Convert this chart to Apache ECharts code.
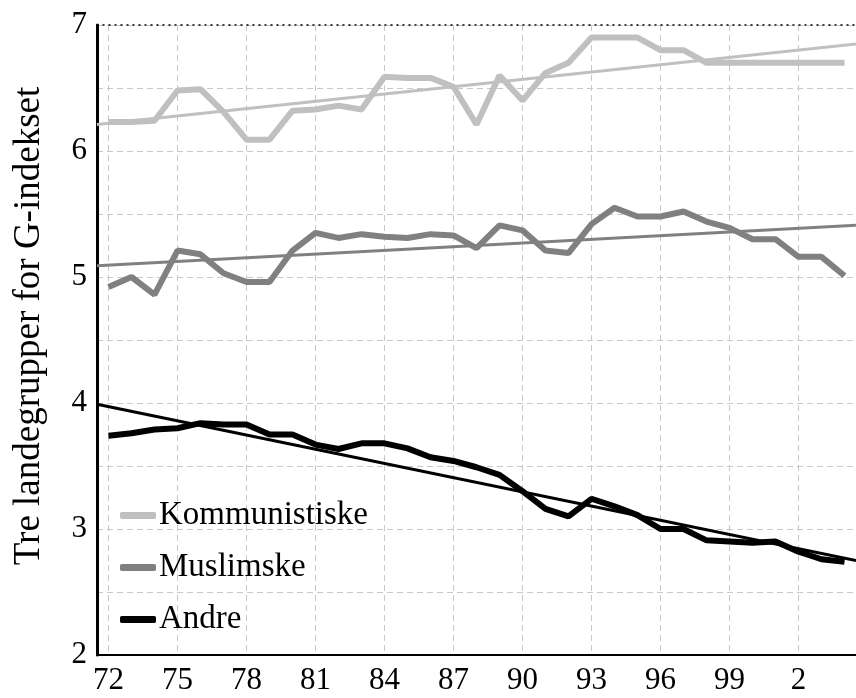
<!DOCTYPE html>
<html>
<head>
<meta charset="utf-8">
<script src="https://cdn.jsdelivr.net/npm/echarts@6/dist/echarts.min.js"></script>
<style>
  html, body { margin: 0; padding: 0; background: #fff; }
  #main { width: 856px; height: 698px; }
</style>
</head>
<body>
<div id="main"></div>
<script>
// years on the x axis (label is the last two digits, 2002 -> "2")
var years = [1972, 1973, 1974, 1975, 1976, 1977, 1978, 1979, 1980, 1981, 1982,
  1983, 1984, 1985, 1986, 1987, 1988, 1989, 1990, 1991, 1992, 1993,
  1994, 1995, 1996, 1997, 1998, 1999, 2000, 2001, 2002, 2003, 2004];

var komm = [6.23, 6.23, 6.24, 6.48, 6.49, 6.31, 6.09, 6.09, 6.32, 6.33, 6.36,
  6.33, 6.59, 6.58, 6.58, 6.51, 6.21, 6.60, 6.40, 6.62, 6.70, 6.90,
  6.90, 6.90, 6.80, 6.80, 6.70, 6.70, 6.70, 6.70, 6.70, 6.70, 6.70];

var musl = [4.92, 5.00, 4.86, 5.21, 5.18, 5.03, 4.96, 4.96, 5.21, 5.35, 5.31,
  5.34, 5.32, 5.31, 5.34, 5.33, 5.23, 5.41, 5.37, 5.21, 5.19, 5.42,
  5.55, 5.48, 5.48, 5.52, 5.44, 5.39, 5.30, 5.30, 5.16, 5.16, 5.01];

var andre = [3.74, 3.76, 3.79, 3.80, 3.84, 3.83, 3.83, 3.75, 3.75, 3.67, 3.635,
  3.68, 3.68, 3.64, 3.57, 3.54, 3.49, 3.43, 3.30, 3.16, 3.10, 3.24,
  3.18, 3.11, 3.00, 3.00, 2.91, 2.90, 2.89, 2.90, 2.82, 2.76, 2.74];

// trend lines, from left edge to right edge of the plot
var trendX = [1971.5, 2004.5];
var kommTrend = [6.21, 6.85];
var muslTrend = [5.09, 5.41];
var andreTrend = [3.99, 2.75];

var names = ['Kommunistiske', 'Muslimske', 'Andre'];
var colors = ['#c0c0c0', '#808080', '#000000'];

var font = '"Liberation Serif", "Times New Roman", serif';

function pairs(xs, ys) {
  var out = [];
  for (var i = 0; i < xs.length; i++) out.push([xs[i], ys[i]]);
  return out;
}

var chart = echarts.init(document.getElementById('main'));

var option = {
  animation: false,
  backgroundColor: '#fff',
  textStyle: { fontFamily: font, color: '#000' },
  grid: { left: 97, top: 25, width: 762, height: 630 },
  legend: {
    data: names,
    orient: 'vertical',
    left: 115,
    top: 494,
    itemWidth: 36,
    itemHeight: 7,
    itemGap: 19,
    icon: 'roundRect',
    textStyle: { fontFamily: font, fontSize: 33, color: '#000', lineHeight: 33, padding: [0, 0, 0, -2] }
  },
  xAxis: [{
    type: 'category',
    data: years,
    boundaryGap: true,
    axisLine: { lineStyle: { color: '#000', width: 2 } },
    axisTick: { show: false },
    axisLabel: {
      interval: 2,
      margin: 10,
      fontFamily: font,
      fontSize: 31,
      color: '#000',
      formatter: function (v) { return String(Number(v) % 100); }
    },
    splitLine: {
      show: true,
      interval: 2,
      alignWithLabel: true,
      lineStyle: { color: '#c8c8c8', type: [6, 4], width: 1 }
    }
  }, {
    type: 'value',
    position: 'top',
    min: trendX[0],
    max: trendX[1],
    axisLine: { show: true, lineStyle: { color: '#000', type: [1, 5], width: 1.5 } },
    axisTick: { show: false },
    axisLabel: { show: false },
    splitLine: { show: false }
  }],
  yAxis: {
    type: 'value',
    min: 2,
    max: 7,
    interval: 0.5,
    name: 'Tre landegrupper for G-indekset',
    nameLocation: 'middle',
    nameGap: 49,
    nameTextStyle: { fontFamily: font, fontSize: 37, color: '#000', padding: [0, 0, 0, 28] },
    axisLine: { show: true, lineStyle: { color: '#000', width: 3 } },
    axisTick: { show: false },
    axisLabel: {
      margin: 10,
      fontFamily: font,
      fontSize: 31,
      color: '#000',
      formatter: function (v) { return v % 1 === 0 ? String(v) : ''; }
    },
    splitLine: { lineStyle: { color: '#c8c8c8', type: [6, 4], width: 1 } }
  },
  series: [
    { name: 'trend1', type: 'line', xAxisIndex: 1, data: pairs(trendX, kommTrend), symbol: 'none',
      lineStyle: { color: colors[0], width: 3 }, silent: true },
    { name: 'trend2', type: 'line', xAxisIndex: 1, data: pairs(trendX, muslTrend), symbol: 'none',
      lineStyle: { color: colors[1], width: 3 }, silent: true },
    { name: names[0], type: 'line', data: komm, symbol: 'none', color: colors[0],
      lineStyle: { color: colors[0], width: 6 } },
    { name: names[1], type: 'line', data: musl, symbol: 'none', color: colors[1],
      lineStyle: { color: colors[1], width: 6 } },
    { name: 'trend3', type: 'line', xAxisIndex: 1, data: pairs(trendX, andreTrend), symbol: 'none',
      lineStyle: { color: colors[2], width: 3 }, silent: true },
    { name: names[2], type: 'line', data: andre, symbol: 'none', color: colors[2],
      lineStyle: { color: colors[2], width: 6 } }
  ]
};

chart.setOption(option);
</script>
</body>
</html>
